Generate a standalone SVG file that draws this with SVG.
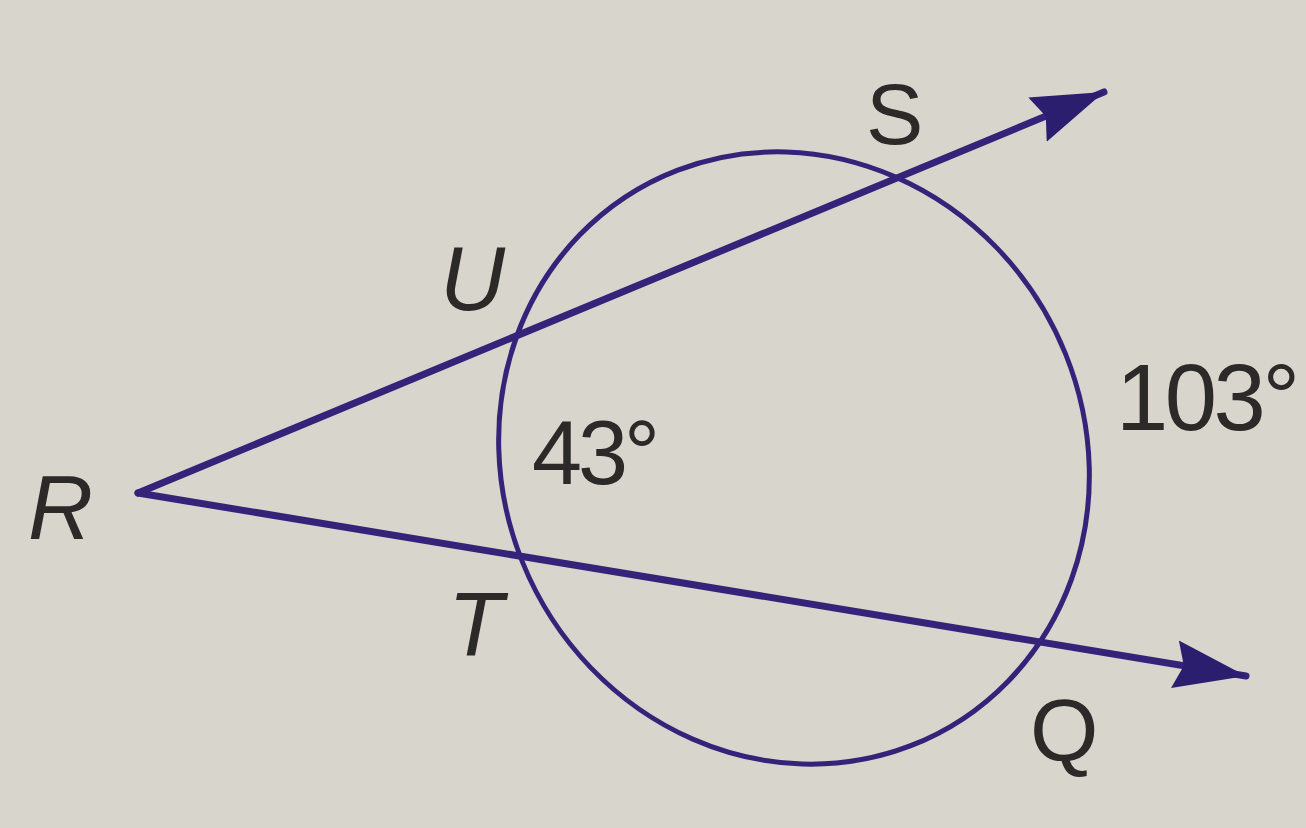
<svg xmlns="http://www.w3.org/2000/svg" width="1306" height="828" viewBox="0 0 1306 828">
<defs>
<style>
.ln{stroke:#35237a;stroke-width:7;fill:none;stroke-linecap:round}
.cir{stroke:#35237a;stroke-width:5;fill:none}
.lbl{font-family:"Liberation Sans",Arial,sans-serif;fill:#2b2a28}
.it{font-style:italic}
</style>
<marker id="arr" markerUnits="userSpaceOnUse" markerWidth="80" markerHeight="52" refX="72" refY="25" orient="auto" viewBox="0 0 80 52">
<path d="M0,1 L72,25 L0,49 L9,25 Z" fill="#2c1e6e"/>
</marker>
</defs>
<rect width="1306" height="828" fill="#d8d5cd"/>
<g id="circle"><ellipse class="cir" cx="0" cy="0" rx="295" ry="306" transform="translate(794,458) skewX(1.5) skewY(1.8)"/></g>
<g id="connectors">
<path class="ln" d="M138,493 L1104,92" marker-end="url(#arr)"/>
<path class="ln" d="M138,493 L1246,676" marker-end="url(#arr)"/>
</g>
<g id="R"><text class="lbl it" x="28" y="539" font-size="90">R</text></g>
<g id="U"><text class="lbl it" x="440" y="310" font-size="90">U</text></g>
<g id="S"><text class="lbl" x="866" y="144" font-size="86" textLength="64">S</text></g>
<g id="T"><text class="lbl it" x="448" y="656" font-size="90">T</text></g>
<g id="Q"><text class="lbl" x="1030" y="761" font-size="88" textLength="74">Q</text></g>
<g id="a43"><text class="lbl" x="532" y="484" font-size="90" textLength="128">43°</text></g>
<g id="a103"><text class="lbl" x="1116" y="430" font-size="94" textLength="184">103°</text></g>
</svg>
